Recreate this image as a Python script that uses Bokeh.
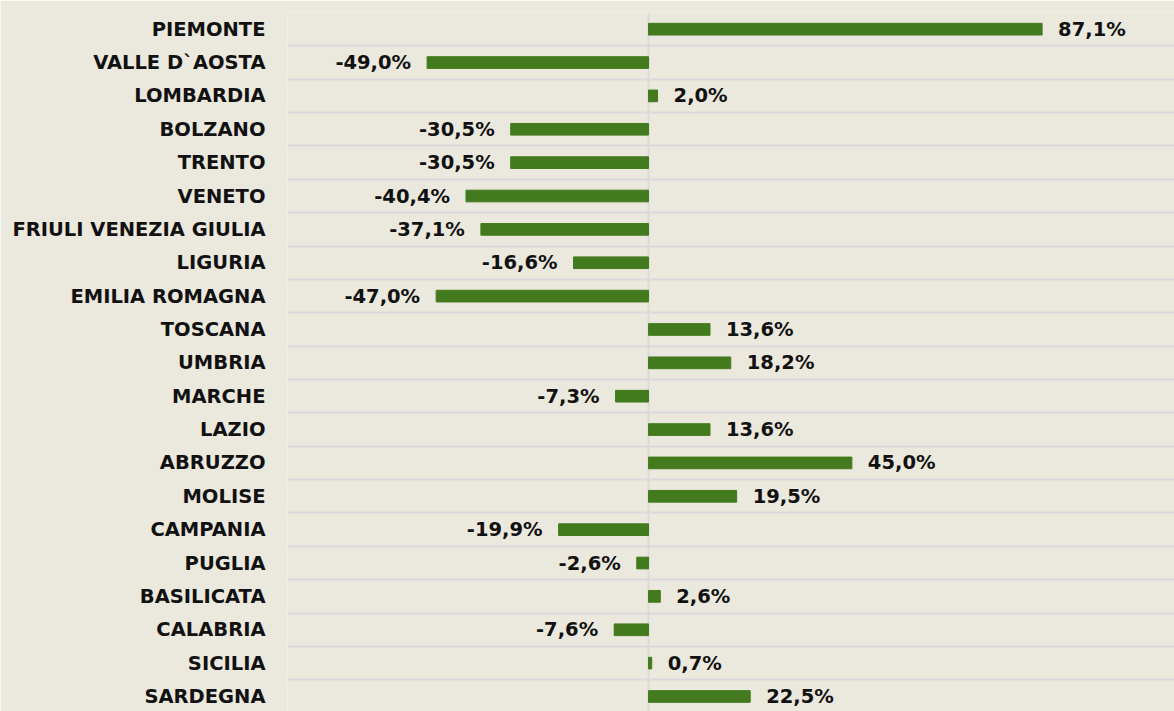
from bokeh.plotting import figure
from bokeh.models import ColumnDataSource, Range1d, FixedTicker
from bokeh.core.properties import value
from bokeh.embed import file_html
from bokeh.resources import INLINE

regions = ["PIEMONTE", "VALLE D`AOSTA", "LOMBARDIA", "BOLZANO", "TRENTO", "VENETO",
           "FRIULI VENEZIA GIULIA", "LIGURIA", "EMILIA ROMAGNA", "TOSCANA", "UMBRIA",
           "MARCHE", "LAZIO", "ABRUZZO", "MOLISE", "CAMPANIA", "PUGLIA", "BASILICATA",
           "CALABRIA", "SICILIA", "SARDEGNA"]
changes = [87.1, -49.0, 2.0, -30.5, -30.5, -40.4, -37.1, -16.6, -47.0, 13.6, 18.2,
           -7.3, 13.6, 45.0, 19.5, -19.9, -2.6, 2.6, -7.6, 0.7, 22.5]

BG = "#EBE8DD"
BAR = "#437A1D"
GRID = "#D9D9DB"
FONT = "DejaVu Sans"

idx = list(range(len(regions)))
src = ColumnDataSource(dict(
    y=idx, v=changes,
    lab=[(f"{v:.1f}".replace(".", ",") + "%") for v in changes],
    align=["left" if v >= 0 else "right" for v in changes],
    off=[16 if v >= 0 else -16 for v in changes],
))

p = figure(width=1174, height=711, output_backend="svg", toolbar_location=None,
           x_range=Range1d(-79.9, 116.4), y_range=Range1d(20.45, -0.5),
           min_border_left=287, min_border_top=12, min_border_bottom=0, min_border_right=0,
           background_fill_color=BG, border_fill_color=BG, outline_line_color=None)

p.hbar(y="y", left=0, right="v", height=0.35, color=BAR, source=src)
p.text(x="v", y="y", text="lab", text_align="align", x_offset="off",
       text_baseline="middle", text_font=value(FONT), text_font_style="bold",
       text_font_size="19.5px", text_color="#111111", source=src)

p.xaxis.visible = False
ya = p.yaxis[0]
ya.ticker = FixedTicker(ticks=idx)
ya.major_label_overrides = {i: r for i, r in zip(idx, regions)}
ya.axis_line_color = None
ya.major_tick_line_color = None
ya.minor_tick_line_color = None
ya.major_tick_out = 0
ya.major_tick_in = 0
ya.major_label_standoff = 22
ya.major_label_text_font = FONT
ya.major_label_text_font_style = "bold"
ya.major_label_text_font_size = "19.5px"
ya.major_label_text_color = "#111111"

p.ygrid.ticker = FixedTicker(ticks=[i - 0.5 for i in range(len(regions) + 1)])
p.ygrid.grid_line_color = GRID
p.ygrid.grid_line_width = 2
p.xgrid.ticker = FixedTicker(ticks=[0])
p.xgrid.grid_line_color = GRID
p.xgrid.grid_line_width = 2

open("out.html", "w").write(file_html(p, INLINE))
